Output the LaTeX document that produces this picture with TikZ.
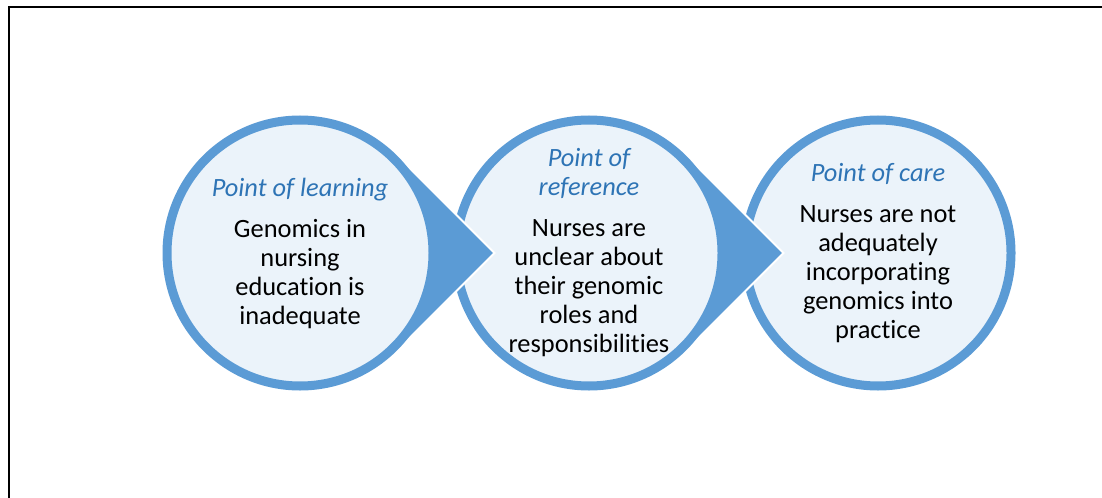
\documentclass[tikz,border=0pt]{standalone}
\usepackage{fontspec}
\setmainfont{Carlito}[Ligatures={NoCommon}]
\usetikzlibrary{calc}

\definecolor{ringblue}{HTML}{5B9BD5}
\definecolor{paleblue}{HTML}{EBF3FA}
\definecolor{headblue}{HTML}{2E74B5}

\newcommand{\stagehead}[1]{{\color{headblue}\itshape #1}}

\begin{document}
\begin{tikzpicture}[
  x=0.75pt, y=0.75pt,
  font=\fontsize{19.8}{21.75}\selectfont,
  stage/.style={circle, draw=ringblue, line width=6.75pt, fill=paleblue,
    minimum size=199.5pt, inner sep=0pt},
  stagetext/.style={align=center, inner sep=0pt},
  tip/.style={fill=ringblue, draw=white, line width=1.5pt, line join=miter}
]
\useasboundingbox (0,0) rectangle (1102,497);
\draw[line width=1.5pt] (9,-20) rectangle (1130,490);

\coordinate (learnC) at (300,244);
\coordinate (refC) at (589,244);
\coordinate (careC) at (878,244);

% right to left, so each tip lies over the next circle
\node[stage] (care) at (careC) {};
\path[tip] ($(refC)+(45:137.5)$) arc[start angle=45, end angle=315, radius=137.5]
  -- ++(45:137.5) -- cycle;
\node[stage] (ref) at (refC) {};
\path[tip] ($(learnC)+(45:137.5)$) arc[start angle=45, end angle=315, radius=137.5]
  -- ++(45:137.5) -- cycle;
\node[stage] (learn) at (learnC) {};

\node[stagetext] (learnTxt) at (learn) {\stagehead{Point of learning}\\[9pt]
  Genomics in\\nursing\\education is\\inadequate};
\node[stagetext] (refTxt) at (ref) {\stagehead{Point of}\\\stagehead{reference}\\[9pt]
  Nurses are\\unclear about\\their genomic\\roles and\\responsibilities};
\node[stagetext] (careTxt) at (care) {\stagehead{Point of care}\\[9pt]
  Nurses are not\\adequately\\incorporating\\genomics into\\practice};
\end{tikzpicture}
\end{document}
